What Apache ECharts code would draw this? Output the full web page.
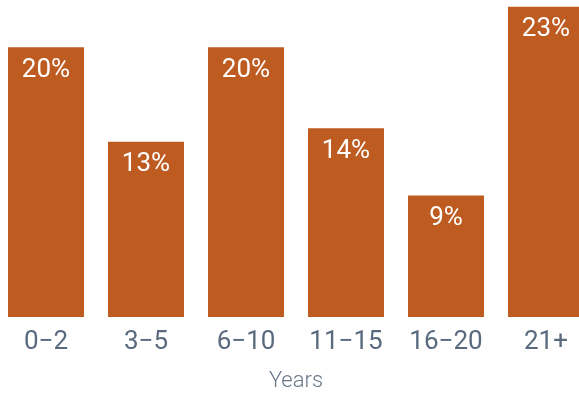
<!DOCTYPE html>
<html>
<head>
<meta charset="utf-8">
<script src="https://cdn.jsdelivr.net/npm/echarts@6/dist/echarts.min.js"></script>
<style>
  html, body { margin: 0; padding: 0; background: #ffffff; overflow: hidden; }
  #chart { position: absolute; left: -4px; top: 0; width: 600px; height: 394px; }
</style>
</head>
<body>
<div id="chart"></div>
<script>
// Share of respondents by years of tenure
const categories = ['0\u22122', '3\u22125', '6\u221210', '11\u221215', '16\u221220', '21+'];
const shares = [20, 13, 20, 14, 9, 23];
const axisTitle = 'Years';

const chart = echarts.init(document.getElementById('chart'), null, { renderer: 'canvas' });

chart.setOption({
  animation: false,
  backgroundColor: '#ffffff',
  grid: { left: 0, right: 0, top: 0, bottom: 77, containLabel: false, outerBoundsMode: 'none' },
  xAxis: {
    type: 'category',
    data: categories,
    axisLine: { show: false },
    axisTick: { show: false },
    axisLabel: {
      margin: 12,
      fontFamily: 'Roboto',
      fontSize: 26,
      color: '#5a6a7e'
    },
    name: axisTitle,
    nameLocation: 'middle',
    nameGap: 53,
    nameTextStyle: {
      fontFamily: 'Roboto',
      fontSize: 22,
      fontWeight: 300,
      color: '#6a788a'
    }
  },
  yAxis: {
    type: 'value',
    min: 0,
    max: 23.5,
    show: false,
    splitLine: { show: false }
  },
  series: [{
    type: 'bar',
    data: shares,
    barWidth: 76,
    itemStyle: { color: '#be5b20' },
    label: {
      show: true,
      position: 'insideTop',
      distance: 10,
      formatter: p => p.value + '%',
      fontFamily: 'Roboto',
      fontSize: 26,
      fontWeight: 'normal',
      color: '#ffffff'
    }
  }]
});
</script>
</body>
</html>
